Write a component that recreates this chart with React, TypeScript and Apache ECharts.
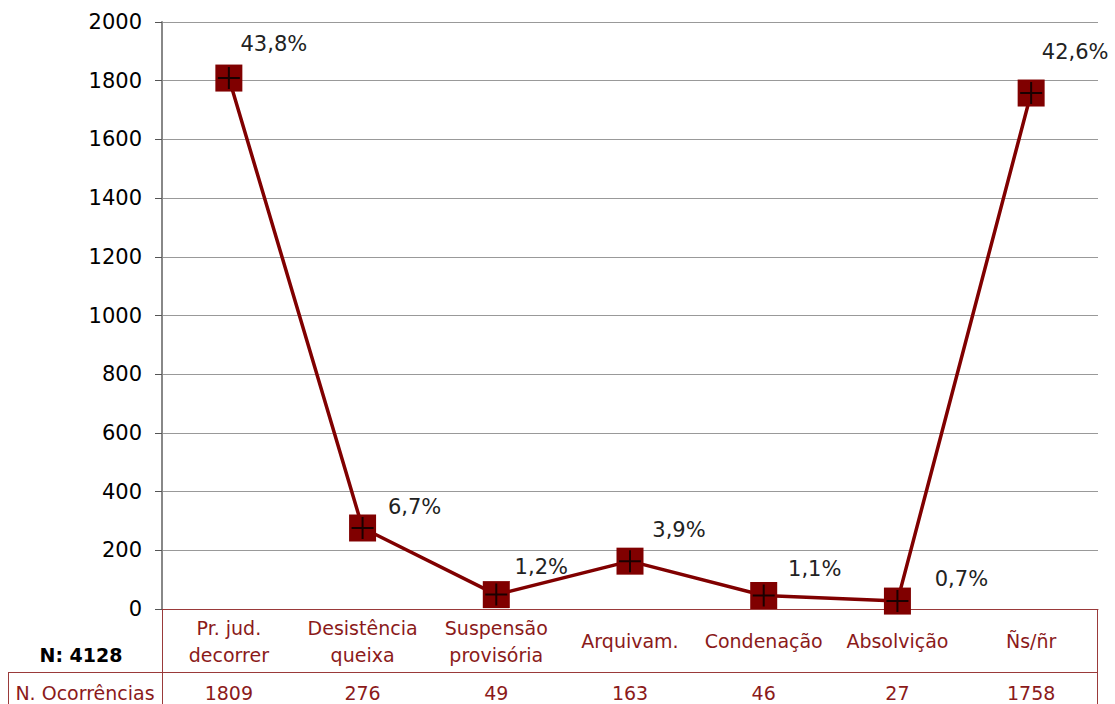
import React, { useEffect, useRef } from "react";
import * as echarts from "echarts";

const categories = [
  "Pr. jud.\ndecorrer",
  "Desistência\nqueixa",
  "Suspensão\nprovisória",
  "Arquivam.",
  "Condenação",
  "Absolvição",
  "Ñs/ñr",
];
const occurrences = [1809, 276, 49, 163, 46, 27, 1758];
const total = 4128;
const yTicks = { min: 0, max: 2000, interval: 200 };

// label offsets (style only)
const labelOffsets = [
  [45, -34],
  [52, -21],
  [45, -28],
  [49, -31],
  [51, -26],
  [64, -22],
  [44, -41],
];

const DARK_RED = "#800000";
const TEXT_RED = "#8b1a1a";
const FONT = "DejaVu Sans";

export default function App() {
  const ref = useRef<HTMLDivElement>(null);
  useEffect(() => {
    if (!ref.current) return;
    const chart = echarts.init(ref.current, undefined, { renderer: "svg" });
    const pct = (v: number) => ((v / total) * 100).toFixed(1).replace(".", ",") + "%";
    const tableLine = { stroke: "#9a3a3a", lineWidth: 1 };
    chart.setOption({
      animation: false,
      textStyle: { fontFamily: FONT },
      grid: { left: 162, right: 17, top: 22, bottom: 95, containLabel: false },
      xAxis: [
        {
          type: "category",
          data: categories,
          position: "bottom",
          boundaryGap: true,
          axisLine: { show: true, lineStyle: { color: "#9a3a3a", width: 1 } },
          axisTick: { show: false },
          axisLabel: {
            color: TEXT_RED,
            fontSize: 19,
            lineHeight: 27,
            fontFamily: FONT,
            verticalAlign: "middle",
            margin: 32,
            interval: 0,
          },
        },
        {
          type: "category",
          data: categories,
          position: "bottom",
          boundaryGap: true,
          axisLine: { show: false },
          axisTick: { show: false },
          axisLabel: {
            color: TEXT_RED,
            fontSize: 19,
            fontFamily: FONT,
            verticalAlign: "middle",
            margin: 84,
            interval: 0,
            formatter: (_: string, i: number) => String(occurrences[i]),
          },
        },
      ],
      yAxis: {
        type: "value",
        min: yTicks.min,
        max: yTicks.max,
        interval: yTicks.interval,
        axisLine: { show: true, lineStyle: { color: "#888", width: 2 } },
        axisTick: { show: true, length: 7, lineStyle: { color: "#555" } },
        axisLabel: {
          color: "#000",
          fontSize: 21,
          fontFamily: FONT,
          margin: 20,
          formatter: (v: number) => String(v),
        },
        splitLine: { show: true, lineStyle: { color: "#999", width: 1 } },
      },
      series: [
        {
          type: "line",
          data: occurrences.map((v, i) => ({
            value: v,
            label: { offset: labelOffsets[i] },
          })),
          symbol: "rect",
          symbolSize: 27,
          lineStyle: { color: DARK_RED, width: 3.5 },
          itemStyle: { color: DARK_RED },
          label: {
            show: true,
            position: "inside",
            color: "#222",
            fontSize: 21,
            fontFamily: FONT,
            formatter: (p: any) => pct(p.value),
          },
          z: 2,
        },
        {
          type: "scatter",
          data: occurrences,
          symbol: "path://M10,0 H12 V22 H10 Z M0,10 H22 V12 H0 Z",
          symbolSize: 22,
          itemStyle: { color: "#000" },
          silent: true,
          z: 3,
        },
      ],
      graphic: [
        { type: "line", shape: { x1: 8, y1: 672.5, x2: 1098, y2: 672.5 }, style: tableLine },
        { type: "line", shape: { x1: 162.5, y1: 609, x2: 162.5, y2: 704 }, style: tableLine },
        { type: "line", shape: { x1: 8.5, y1: 672, x2: 8.5, y2: 704 }, style: tableLine },
        { type: "line", shape: { x1: 1097.5, y1: 609, x2: 1097.5, y2: 704 }, style: tableLine },
        {
          type: "text",
          x: 81,
          y: 655,
          style: {
            text: "N: 4128",
            fill: "#000",
            font: `bold 19px "${FONT}"`,
            align: "center",
            verticalAlign: "middle",
          },
        },
        {
          type: "text",
          x: 85,
          y: 693,
          style: {
            text: "N. Ocorrências",
            fill: TEXT_RED,
            font: `19px "${FONT}"`,
            align: "center",
            verticalAlign: "middle",
          },
        },
      ],
    });
    return () => chart.dispose();
  }, []);
  return (
    <div
      ref={ref}
      style={{ position: "fixed", left: 0, top: 0, width: 1115, height: 704, background: "#fff" }}
    />
  );
}
